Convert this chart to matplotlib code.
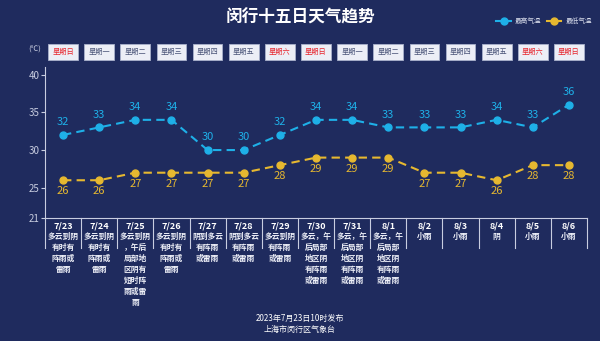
import matplotlib
matplotlib.use("Agg")
import matplotlib.pyplot as plt
import matplotlib.transforms as mtransforms
from matplotlib.lines import Line2D

plt.rcParams['font.family'] = ['Noto Sans CJK SC', 'DejaVu Sans']

# 数据
dates = ['7/23', '7/24', '7/25', '7/26', '7/27', '7/28', '7/29', '7/30',
         '7/31', '8/1', '8/2', '8/3', '8/4', '8/5', '8/6']
weekdays = ['星期日', '星期一', '星期二', '星期三', '星期四', '星期五', '星期六',
            '星期日', '星期一', '星期二', '星期三', '星期四', '星期五', '星期六', '星期日']
t_max = [32, 33, 34, 34, 30, 30, 32, 34, 34, 33, 33, 33, 34, 33, 36]
t_min = [26, 26, 27, 27, 27, 27, 28, 29, 29, 29, 27, 27, 26, 28, 28]
weather = ['多云到阴有时有阵雨或雷雨', '多云到阴有时有阵雨或雷雨',
           '多云到阴，午后局部地区阴有短时阵雨或雷雨', '多云到阴有时有阵雨或雷雨',
           '阴到多云有阵雨或雷雨', '阴到多云有阵雨或雷雨', '多云到阴有阵雨或雷雨',
           '多云，午后局部地区阴有阵雨或雷雨', '多云，午后局部地区阴有阵雨或雷雨',
           '多云，午后局部地区阴有阵雨或雷雨',
           '小雨', '小雨', '阴', '小雨', '小雨']
yticks = [21, 25, 30, 35, 40]

BG = '#1f2b5e'
C_MAX = '#1eb0e8'
C_MIN = '#e6b830'
C_AXIS = '#c8cde0'


def wrap(s):
    # 第一行4个字，之后每行3个字
    lines = [s[:4]]
    rest = s[4:]
    while rest:
        lines.append(rest[:3])
        rest = rest[3:]
    return '\n'.join(lines)


fig = plt.figure(figsize=(6, 3.41), dpi=100, facecolor=BG)
ax = fig.add_axes([45 / 600, 1 - 218 / 341, 542 / 600, 151 / 341])
ax.set_facecolor(BG)

x = list(range(len(dates)))
ax.plot(x, t_max, color=C_MAX, lw=1.5, ls=(0, (4, 2.5)), marker='o', ms=5,
        label='最高气温')
ax.plot(x, t_min, color=C_MIN, lw=1.5, ls=(0, (4, 2.5)), marker='o', ms=5,
        label='最低气温')

for i, v in enumerate(t_max):
    ax.annotate(str(v), (i, v), xytext=(0, 5.5), textcoords='offset points',
                ha='center', va='bottom', color=C_MAX, fontsize=8)
for i, v in enumerate(t_min):
    ax.annotate(str(v), (i, v), xytext=(0, -4.5), textcoords='offset points',
                ha='center', va='top', color=C_MIN, fontsize=8)

ax.set_xlim(-0.5, len(dates) - 0.5)
ax.set_ylim(21, 41)
ax.set_yticks(yticks)
ax.set_xticks([])
ax.tick_params(axis='y', colors=C_AXIS, labelsize=7, length=3, width=0.8, pad=1)
for side in ['top', 'right']:
    ax.spines[side].set_visible(False)
for side in ['left', 'bottom']:
    ax.spines[side].set_color(C_AXIS)
    ax.spines[side].set_linewidth(0.8)

trans = mtransforms.blended_transform_factory(ax.transData, fig.transFigure)

# 表格竖线
for k in range(len(dates) + 1):
    ax.add_line(Line2D([k - 0.5, k - 0.5], [1 - 218 / 341, 1 - 248 / 341],
                       transform=trans, color=C_AXIS, lw=0.8, clip_on=False))

# 日期与天气
for i, (d, w) in enumerate(zip(dates, weather)):
    ax.text(i, 1 - 226 / 341, d, transform=trans, ha='center', va='center',
            color='white', fontsize=6.5, fontweight='bold', clip_on=False)
    ax.text(i, 1 - 232 / 341, wrap(w), transform=trans, ha='center', va='top',
            color='#eef0f8', fontsize=5.6, fontweight='bold', linespacing=1.28,
            clip_on=False)

# 星期
for i, wd in enumerate(weekdays):
    c = '#e8242c' if wd in ('星期六', '星期日') else '#4a5478'
    ax.text(i, 1 - 52 / 341, wd, transform=trans, ha='center', va='center',
            color=c, fontsize=5.2, clip_on=False,
            bbox=dict(boxstyle='square,pad=0.55', fc='#eceef6', ec='#aab2cc',
                      lw=0.6))

fig.text(35 / 600, 1 - 50 / 341, '(℃)', ha='center', va='center',
         color=C_AXIS, fontsize=5.5)

fig.text(0.5, 1 - 18 / 341, '闵行十五日天气趋势', ha='center', va='center',
         color='white', fontsize=12, fontweight='bold')

leg = fig.legend(loc='center right', bbox_to_anchor=(598 / 600, 1 - 21 / 341),
                 ncol=2, frameon=False, fontsize=4.8, handlelength=2.2,
                 columnspacing=0.8, handletextpad=0.6, labelcolor='#d8dcea')
for h in leg.legend_handles:
    h.set_linestyle('-')

fig.text(0.5, 1 - 318 / 341, '2023年7月23日10时发布', ha='center',
         va='center', color='white', fontsize=5.8)
fig.text(0.5, 1 - 329 / 341, '上海市闵行区气象台', ha='center',
         va='center', color='white', fontsize=5.8)

fig.savefig('out.png', dpi=100, facecolor=BG)
